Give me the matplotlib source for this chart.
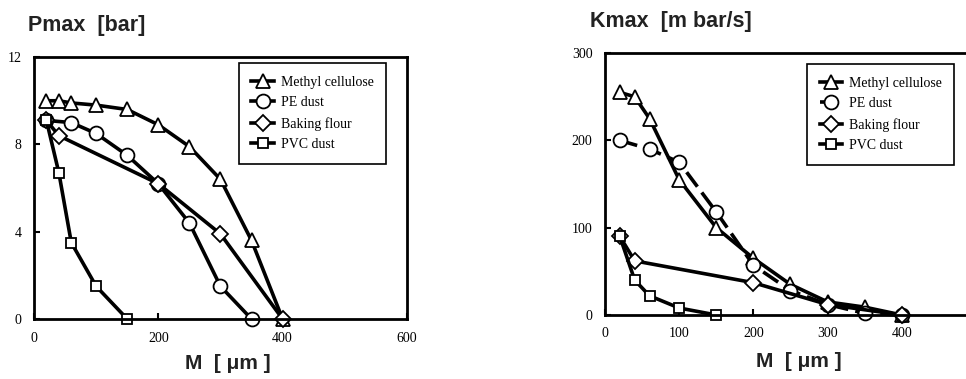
import matplotlib
matplotlib.use("Agg")
import matplotlib.pyplot as plt

# Pmax data (bar) vs median particle size M (um)
methyl_p_x = [20, 40, 60, 100, 150, 200, 250, 300, 350, 400]
methyl_p_y = [10.0, 10.0, 9.9, 9.8, 9.6, 8.9, 7.9, 6.4, 3.6, 0.0]
pe_p_x = [20, 60, 100, 150, 200, 250, 300, 350]
pe_p_y = [9.1, 9.0, 8.5, 7.5, 6.2, 4.4, 1.5, 0.0]
flour_p_x = [20, 40, 200, 300, 400]
flour_p_y = [9.1, 8.4, 6.2, 3.9, 0.0]
pvc_p_x = [20, 40, 60, 100, 150]
pvc_p_y = [9.1, 6.7, 3.5, 1.5, 0.0]

# Kmax data (bar m/s) vs M (um)
methyl_k_x = [20, 40, 60, 100, 150, 200, 250, 300, 350, 400]
methyl_k_y = [255, 250, 225, 155, 100, 65, 35, 15, 9, 0]
pe_k_x = [20, 60, 100, 150, 200, 250, 300, 350, 400]
pe_k_y = [200, 190, 175, 118, 57, 28, 12, 2, 0]
flour_k_x = [20, 40, 200, 300, 400]
flour_k_y = [90, 62, 37, 12, 0]
pvc_k_x = [20, 40, 60, 100, 150]
pvc_k_y = [90, 40, 22, 8, 0]

p_xticks = [0, 200, 400, 600]
p_yticks = [0, 4, 8, 12]
k_xticks = [0, 100, 200, 300, 400, 500]
k_yticks = [0, 100, 200, 300]

labels = ["Methyl cellulose", "PE dust", "Baking flour", "PVC dust"]
markers = ["^", "o", "D", "s"]
msizes = [10, 10, 8, 7.5]

serif = "Liberation Serif"
sans = "Liberation Sans"

fig = plt.figure(figsize=(9.66, 3.79), dpi=100)
ax1 = fig.add_axes([0.0352, 0.1583, 0.386, 0.691])
ax2 = fig.add_axes([0.6263, 0.1689, 0.384, 0.691])


def draw(ax, series, dashed_pe=False):
    for i, (xs, ys) in enumerate(series):
        kw = dict(color="black", lw=2.6, marker=markers[i], ms=msizes[i],
                  mfc="white", mec="black", mew=1.3, label=labels[i])
        line, = ax.plot(xs, ys, **kw)
        if dashed_pe and i == 1:
            line.set_dashes((5, 2))


draw(ax1, [(methyl_p_x, methyl_p_y), (pe_p_x, pe_p_y),
           (flour_p_x, flour_p_y), (pvc_p_x, pvc_p_y)])
draw(ax2, [(methyl_k_x, methyl_k_y), (pe_k_x, pe_k_y),
           (flour_k_x, flour_k_y), (pvc_k_x, pvc_k_y)], dashed_pe=True)

ax1.set_xlim(0, 600)
ax1.set_ylim(0, 12)
ax1.set_xticks(p_xticks)
ax1.set_yticks(p_yticks)
ax2.set_xlim(0, 500)
ax2.set_ylim(0, 300)
ax2.set_xticks(k_xticks)
ax2.set_yticks(k_yticks)

legend_anchor = {ax1: (0.944, 0.977), ax2: (0.941, 0.958)}
for ax in (ax1, ax2):
    for side in ax.spines.values():
        side.set_linewidth(2.0)
    ax.tick_params(direction="in", length=4, width=1.5, pad=9,
                   labelsize=10)
    for t in ax.get_xticklabels() + ax.get_yticklabels():
        t.set_fontfamily(serif)
    for p in ax.lines:
        p.set_clip_on(False)
    leg = ax.legend(loc="upper right", bbox_to_anchor=legend_anchor[ax],
                    borderaxespad=0, fancybox=False, framealpha=1,
                    edgecolor="black", handlelength=1.6, handletextpad=0.5,
                    labelspacing=0.55, borderpad=0.9,
                    prop={"family": serif, "size": 10})
    leg.get_frame().set_linewidth(1.2)

fig.text(0.029, 0.934, "Pmax  [bar]", fontsize=15.5, fontweight="bold",
         family=sans, color="#222222", va="center", ha="left")
fig.text(0.611, 0.942, "Kmax  [m bar/s]", fontsize=15.5, fontweight="bold",
         family=sans, color="#222222", va="center", ha="left")
fig.text(0.2355, 0.042, "M  [ μm ]", fontsize=15, fontweight="bold",
         family=sans, color="#222222", va="center", ha="center")
fig.text(0.827, 0.045, "M  [ μm ]", fontsize=15, fontweight="bold",
         family=sans, color="#222222", va="center", ha="center")

fig.savefig("out.png", dpi=100)
